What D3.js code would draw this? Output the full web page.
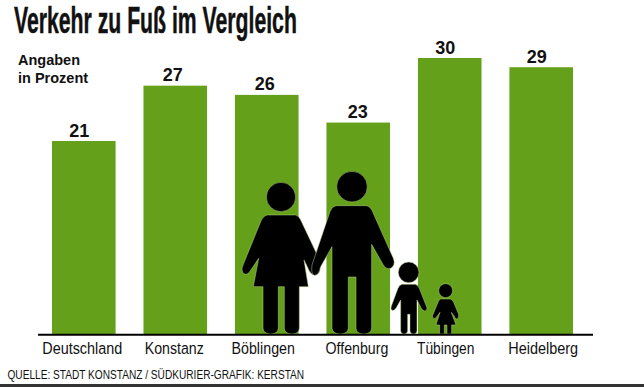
<!DOCTYPE html>
<html lang="de">
<head>
<meta charset="utf-8">
<script src="https://cdn.jsdelivr.net/npm/d3@7"></script>
<style>
  html, body { margin: 0; padding: 0; background: #fff; overflow: hidden; }
  svg { display: block; }
  text { font-family: "Liberation Sans", Arial, sans-serif; fill: #111; }
</style>
</head>
<body>
<div id="chart"></div>
<script>
const cities = ["Deutschland", "Konstanz", "Böblingen", "Offenburg", "Tübingen", "Heidelberg"];
const shares = [21, 27, 26, 23, 30, 29];
const titleText = "Verkehr zu Fuß im Vergleich";
const unitLines = ["Angaben", "in Prozent"];
const sourceText = "QUELLE: STADT KONSTANZ / SÜDKURIER-GRAFIK: KERSTAN";

const width = 644;
const height = 387;
const green = "#64a019";

const svg = d3.select("#chart").append("svg")
    .attr("width", width)
    .attr("height", height);

const x = d3.scaleBand()
    .domain(cities)
    .range([52, 573])
    .paddingInner(0.305)
    .paddingOuter(0);

const y = d3.scaleLinear()
    .domain([0, 30])
    .range([334.7, 58]);

// no condensed font here, so squeeze the text sideways to the wanted width
function squeeze(sel, left, baseline, wanted) {
    const k = wanted / sel.node().getComputedTextLength();
    sel.attr("text-anchor", "start")
        .attr("transform", `translate(${left},${baseline}) scale(${k},1)`);
}

/* ---------------- BARS ---------------- */

svg.selectAll("rect.bar")
    .data(cities)
    .enter()
    .append("rect")
    .attr("class", "bar")
    .attr("x", d => x(d))
    .attr("y", (d, i) => y(shares[i]))
    .attr("width", x.bandwidth())
    .attr("height", (d, i) => y(0) - y(shares[i]))
    .attr("fill", green);

// the numbers sit a little left of the bar centres
const valueShift = [-4.5, -2.5, -2, -0.5, -4.5, -4.5];

svg.selectAll("text.value")
    .data(shares)
    .enter()
    .append("text")
    .attr("class", "value")
    .attr("x", (d, i) => x(cities[i]) + x.bandwidth() / 2 + valueShift[i])
    .attr("y", d => y(d) - 4.5)
    .attr("text-anchor", "middle")
    .style("font-size", "18px")
    .style("font-weight", "bold")
    .text(d => d);

/* ---------------- PEOPLE ---------------- */

// drawn in the coordinates of a 3x crop, scaled down below
const people = svg.append("g")
    .attr("transform", "translate(230,165) scale(0.3333)")
    .attr("fill", "#000")
    .attr("stroke", "#b9d58a")
    .attr("stroke-width", 1.5)
    .attr("stroke-linejoin", "round");

const heads = [[153, 96, 44], [366, 65, 46], [536, 322, 31], [647, 377, 21]];
people.selectAll("circle")
    .data(heads)
    .enter()
    .append("circle")
    .attr("cx", d => d[0])
    .attr("cy", d => d[1])
    .attr("r", d => d[2]);

const bodies = [
    // woman
    "M112 150 L196 150 Q206 152 212 165 L258 262 L270 305 Q272 330 254 331 Q240 328 232 305 L222 285 L235 365 L208 365 L208 490 Q206 507 186 507 Q165 507 163 490 L163 365 L145 365 L145 490 Q143 507 122 507 Q101 507 99 490 L99 365 L70 365 L86 280 L58 322 Q46 334 38 322 Q33 312 40 298 L92 170 Q98 153 112 150 Z",
    // man
    "M318 122 L410 122 Q420 124 426 136 L490 280 Q498 300 482 310 Q470 315 460 300 L425 238 L425 490 Q423 507 401 507 Q379 507 378 490 L378 336 L355 336 L355 490 Q353 507 331 507 Q309 507 306 490 L306 245 L272 305 Q266 330 254 331 Q242 328 246 300 L300 140 Q306 124 318 122 Z",
    // boy
    "M516 358 L556 358 Q564 360 568 370 L591 428 Q592 438 584 438 Q578 438 574 430 L561 405 L561 498 Q560 507 551 507 Q541 507 540 498 L540 448 L533 448 L533 498 Q532 507 522 507 Q513 507 512 498 L512 405 L498 430 Q492 438 486 436 Q481 432 484 424 L504 370 Q508 360 516 358 Z",
    // girl
    "M632 402 L661 402 Q668 404 671 412 L686 448 Q688 460 680 462 Q675 462 672 452 L664 442 L678 480 L665 480 L665 507 L651 507 L651 480 L643 480 L643 507 L629 507 L629 480 L618 480 L630 442 L620 456 Q614 464 608 458 Q606 452 610 446 L624 412 Q626 404 632 402 Z"
];
people.selectAll("path")
    .data(bodies)
    .enter()
    .append("path")
    .attr("d", d => d);

/* ---------------- AXIS ---------------- */

svg.append("line")
    .attr("x1", 38)
    .attr("x2", 593)
    .attr("y1", y(0))
    .attr("y2", y(0))
    .attr("stroke", "#000")
    .attr("stroke-width", 2);

const axis = svg.append("g")
    .attr("transform", `translate(0,${y(0)})`)
    .call(d3.axisBottom(x).tickSize(0).tickPadding(0));

axis.select(".domain").remove();

const labelWidth = [80, 59, 63.5, 63, 57.5, 70];
const labelShift = [-1.5, -1, -3.5, -1.3, -4, 2];

axis.selectAll("text")
    .attr("dy", null)
    .style("font-family", "'Liberation Sans', sans-serif")
    .style("font-size", "16.5px")
    .each(function (d, i) {
        squeeze(d3.select(this), labelShift[i] - labelWidth[i] / 2, 19, labelWidth[i]);
    });

/* ---------------- TEXT ---------------- */

svg.append("text")
    .style("font-size", "36px")
    .style("font-weight", "bold")
    .style("stroke", "#111")
    .style("stroke-width", 0.5)
    .text(titleText)
    .call(squeeze, 14, 32.5, 283);

svg.selectAll("text.unit")
    .data(unitLines)
    .enter()
    .append("text")
    .attr("class", "unit")
    .attr("x", 18)
    .attr("y", (d, i) => 65 + i * 18)
    .style("font-size", "14.5px")
    .style("font-weight", "bold")
    .text(d => d);

svg.append("text")
    .style("font-size", "13px")
    .text(sourceText)
    .call(squeeze, 7.5, 379, 297);

svg.append("rect")
    .attr("x", 0)
    .attr("y", 384)
    .attr("width", width)
    .attr("height", 3)
    .attr("fill", "#333");
</script>
</body>
</html>
